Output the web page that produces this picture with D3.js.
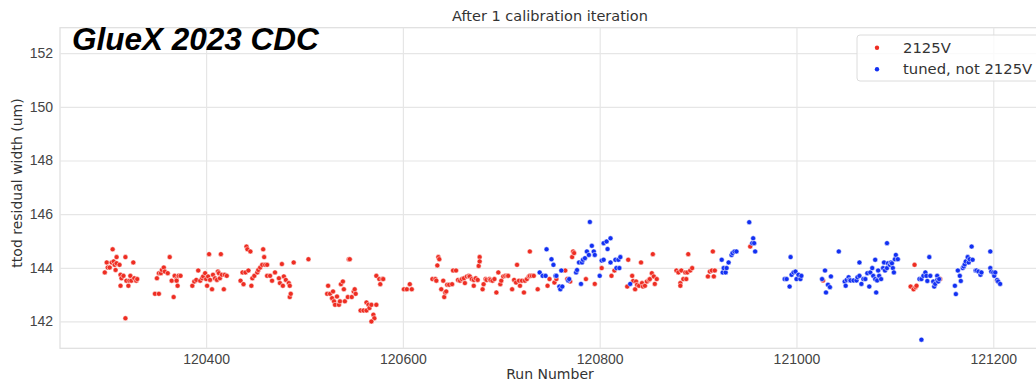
<!DOCTYPE html>
<html>
<head>
<meta charset="utf-8">
<script src="https://cdn.jsdelivr.net/npm/d3@7"></script>
<style>
  body { margin: 0; background: #fff; }
  svg { display: block; font-family: "DejaVu Sans", sans-serif; }
  .axis path { display: none; }
  .axis line { stroke: #e6e6e6; }
  .axis text { fill: #444; font-size: 14px; }
</style>
</head>
<body>
<div id="chart"></div>
<script>
var W = 1036, H = 381;

var chartTitle = "After 1 calibration iteration";
var seriesNames = ["2125V", "tuned, not 2125V"];
var seriesColors = ["#ee2d22", "#1230f2"];
var xTicks = [120400, 120600, 120800, 121000, 121200];
var yTicks = [142, 144, 146, 148, 150, 152];

/* runs at 2125V */
var redRun = [
  120297,120299,120300,120302,120304,120306,120307,120305,120308,120309,120309,120312,120313,120314,
  120313,120316,120318,120318,120319,120321,120322,120323,120324,120326,120327,120329,120330,
  120348,120352,120350,120352,120354,120355,120357,120358,120361,120363,120365,120367,120368,120370,
  120370,120371,120372,120374,
  120386,120388,120390,120392,120394,120396,120397,120399,120400,120401,120402,120403,120404,120406,
  120407,120409,120411,120412,120413,120414,120415,120416,120418,120419,120421,
  120435,120437,120438,120440,120441,120442,120445,120443,120446,120447,120449,120452,120453,120455,
  120457,120458,120459,120460,120462,120462,120465,120467,120470,120474,120475,120477,120478,120479,
  120481,120484,120485,120485,120486,120489,120504,
  120523,120524,120526,120528,120529,120530,120531,120533,120535,120536,120537,120539,120540,120541,
  120544,120545,120546,120548,120550,120551,120552,
  120557,120560,120563,120563,120565,120566,120568,120570,120571,120568,120573,120573,120576,120577,
  120579,120580,120601,120604,120607,120609,
  120630,120633,120634,120635,120636,120637,120639,120641,120642,120643,120644,120645,120647,120650,
  120651,120654,120656,120658,120660,120662,120663,120665,120667,120668,120670,120672,120672,120674,
  120676,120677,120678,120678,120681,120682,120684,120685,120688,120689,120691,120693,120695,120697,
  120699,120700,120702,120704,120706,120707,120711,120713,120715,120716,120718,120719,120721,120723,
  120724,120726,120728,120729,120729,120731,120733,120737,120747,120749,120754,120756,120765,120767,
  120770,120772,120773,120774,120786,120795,
  120802,120812,120815,120829,120828,120833,120834,120836,120837,120838,120840,120842,120843,120844,
  120846,120848,120850,120851,120853,120854,120855,120856,120858,
  120878,120880,120882,120882,120883,120885,120887,120888,120889,120890,120892,120894,
  120910,120912,120914,120915,120916,120917,120953,121027,
  121116,121119,121120,121121,121122,121146,121204
];
var redWidth = [
  143.83,144.20,144.01,144.01,144.20,144.24,144.11,144.69,143.92,144.40,144.17,144.11,143.74,143.61,
  143.33,143.70,144.40,142.12,143.52,143.33,143.52,143.70,143.52,144.20,143.61,143.52,143.58,
  143.03,143.03,143.61,143.80,143.80,143.92,144.01,143.86,143.80,144.40,143.52,142.91,143.70,143.58,
  143.52,143.33,143.70,143.70,
  143.33,143.49,143.55,143.90,143.52,143.61,143.68,143.80,143.58,143.33,143.68,144.51,143.55,143.20,
  143.74,143.61,143.55,143.86,143.80,143.61,144.51,143.74,143.20,143.74,143.70,
  143.52,143.83,143.39,143.83,144.79,144.69,144.61,143.90,143.33,143.61,143.70,143.83,143.92,144.01,
  144.11,144.69,144.40,144.11,144.11,143.70,143.70,143.52,143.83,143.61,143.43,144.14,143.33,143.68,
  143.55,143.43,143.33,142.91,143.03,144.20,144.32,
  143.03,143.33,143.03,142.87,143.12,142.75,142.62,142.93,142.62,142.75,143.39,143.49,143.20,142.75,
  142.91,144.32,144.32,142.91,143.12,143.20,143.03,
  142.41,142.41,142.71,142.41,142.62,142.50,142.62,142.25,142.12,142.00,142.62,143.70,143.58,143.39,
  143.58,143.58,143.20,143.20,143.39,143.20,
  143.58,143.58,143.52,144.09,144.40,144.32,143.20,143.52,142.91,143.08,143.12,143.37,143.37,143.39,
  143.90,143.90,143.55,143.52,143.58,143.61,143.43,143.68,143.70,143.68,143.58,143.33,143.55,143.61,
  143.55,144.07,144.40,144.24,143.20,143.39,143.58,143.55,143.58,143.55,143.52,143.58,143.08,143.83,
  143.39,143.52,143.68,143.70,143.70,143.70,143.20,143.55,143.45,144.11,143.52,143.33,143.52,143.08,
  143.52,143.58,143.68,144.61,143.70,143.70,143.70,143.20,143.33,143.58,143.45,143.58,143.90,143.58,
  143.49,144.40,144.61,144.55,143.58,143.40,
  143.99,143.70,143.90,144.30,143.30,143.70,143.51,143.20,143.49,143.37,143.33,144.20,143.43,143.30,
  143.33,143.49,143.55,143.58,143.80,144.51,143.68,143.40,143.58,
  143.90,143.83,143.43,143.33,143.90,143.58,143.83,143.58,143.83,144.51,143.90,143.99,
  143.68,143.86,143.90,144.61,143.68,143.90,144.79,143.53,
  143.30,143.20,144.11,143.28,143.33,143.58,143.53
];

/* tuned runs, not at 2125V */
var blueRun = [
  120739,120742,120745,120746,120751,120753,120755,120756,120759,120760,120761,120762,120768,120769,
  120776,120777,120779,120781,120782,120783,120785,120787,120789,120790,120792,120794,120795,120800,
  120802,120804,120804,120807,120808,120811,120811,120816,120817,120819,120820,120821,120831,
  120924,120925,120926,120928,120929,120931,120934,120935,120937,120939,
  120952,120955,120956,120957,120958,
  120988,120990,120993,120994,120995,120997,120999,121000,121002,121004,121005,
  121026,121029,121030,121032,121035,121034,121043,121049,121051,121053,121050,121054,
  121055,121058,121061,121062,121064,121064,121066,121068,121070,121072,121074,121075,121077,121078,
  121080,121080,121081,121082,121083,121084,121086,121088,121089,121090,121092,121092,121093,121095,
  121096,121097,121098,121099,121100,121101,121103,
  121125,121127,121127,121129,121131,121132,121133,121135,121136,121139,121140,121141,121143,121143,
  121144,121145,
  121161,121162,121164,121166,121167,121169,121170,121171,121172,121174,121175,121176,121178,121179,
  121182,121183,121185,121187,121188,
  121197,121197,121198,121200,121201,121202,121204,121205,121207
];
var blueWidth = [
  143.83,143.70,143.70,144.69,144.32,144.11,143.70,143.70,143.30,143.20,143.90,143.30,143.53,143.58,
  143.83,143.92,144.20,143.40,144.20,144.30,144.36,144.61,144.48,145.71,144.82,144.61,144.48,143.70,
  144.27,144.30,144.92,144.98,144.70,145.10,144.20,144.30,143.99,144.30,143.99,144.40,143.40,
  144.30,143.83,143.99,143.83,143.99,144.20,144.48,144.55,144.61,144.61,
  145.70,144.92,145.10,144.92,144.61,
  143.58,143.58,143.30,144.40,143.74,143.83,143.86,143.58,143.74,143.58,143.70,
  143.58,143.90,143.08,143.37,143.68,143.28,144.61,143.49,143.55,143.65,143.33,143.55,
  143.53,143.53,143.53,143.65,144.20,143.70,143.40,143.58,143.58,143.80,143.30,143.83,143.99,143.70,
  144.30,143.58,143.08,143.53,143.90,143.70,143.58,143.99,144.20,143.90,144.92,143.99,144.17,144.11,
  144.20,144.17,143.99,143.83,144.32,144.48,144.32,
  143.58,143.58,141.32,143.70,143.83,143.70,143.51,144.40,143.70,143.49,143.30,143.40,143.70,143.55,
  143.49,143.58,
  143.33,143.02,143.90,143.70,143.51,143.99,144.05,144.13,144.24,144.40,144.20,144.32,144.79,144.30,
  143.90,143.90,143.86,143.74,143.83,
  144.61,143.99,143.86,143.83,143.70,143.83,143.55,143.49,143.40
];

var plot = {left: 60, right: 1040, top: 27.7, bottom: 348.3};

var x = d3.scaleLinear().domain([120251.5, 121247.5]).range([plot.left, plot.right]);
var y = d3.scaleLinear().domain([141.0, 152.95]).range([plot.bottom, plot.top]);

var svg = d3.select('#chart').append('svg')
  .attr('width', W)
  .attr('height', H);

// frame
svg.append('rect')
  .attr('x', plot.left)
  .attr('y', plot.top)
  .attr('width', plot.right - plot.left)
  .attr('height', plot.bottom - plot.top)
  .attr('fill', 'none')
  .attr('stroke', '#dedede')
  .attr('stroke-width', 1.2);

// grid + ticks
svg.append('g')
  .attr('class', 'axis')
  .attr('transform', 'translate(' + plot.left + ',0)')
  .call(d3.axisLeft(y).tickValues(yTicks).tickSize(-(plot.right - plot.left)).tickPadding(7).tickFormat(d3.format('d')));

svg.append('g')
  .attr('class', 'axis')
  .attr('transform', 'translate(0,' + plot.bottom + ')')
  .call(d3.axisBottom(x).tickValues(xTicks).tickSize(-(plot.bottom - plot.top)).tickPadding(6).tickFormat(d3.format('d')));

svg.selectAll('.axis line').attr('stroke', '#e6e6e6').attr('stroke-width', 1.2);

// points
function drawSeries(runs, widths, color) {
  svg.append('g')
    .selectAll('circle')
    .data(d3.range(runs.length))
    .enter().append('circle')
    .attr('cx', function (i) { return x(runs[i]); })
    .attr('cy', function (i) { return y(widths[i]); })
    .attr('r', 2.5)
    .attr('fill', color)
    .attr('stroke', '#fff')
    .attr('stroke-width', 0.5);
}
drawSeries(redRun, redWidth, seriesColors[0]);
drawSeries(blueRun, blueWidth, seriesColors[1]);

// labels
svg.append('text')
  .attr('x', (plot.left + plot.right) / 2)
  .attr('y', 21)
  .attr('text-anchor', 'middle')
  .attr('fill', '#333')
  .style('font-size', '14.5px')
  .text(chartTitle);

svg.append('text')
  .attr('x', (plot.left + plot.right) / 2)
  .attr('y', 379)
  .attr('text-anchor', 'middle')
  .attr('fill', '#333')
  .style('font-size', '14px')
  .text('Run Number');

svg.append('text')
  .attr('transform', 'translate(21.5,183) rotate(-90)')
  .attr('text-anchor', 'middle')
  .attr('fill', '#333')
  .style('font-size', '14px')
  .text('ttod residual width (um)');

svg.append('text')
  .attr('x', 72)
  .attr('y', 50)
  .style('font-family', '"Liberation Sans", Arial, sans-serif')
  .style('font-weight', 'bold')
  .style('font-style', 'italic')
  .style('font-size', '31.5px')
  .attr('fill', '#000')
  .text('GlueX 2023 CDC');

// legend
var legend = svg.append('g').attr('transform', 'translate(857,35)');
legend.append('rect')
  .attr('width', 200)
  .attr('height', 46)
  .attr('rx', 3)
  .attr('fill', '#fff')
  .attr('fill-opacity', 0.8)
  .attr('stroke', '#dcdcdc');

seriesNames.forEach(function (name, i) {
  var row = legend.append('g').attr('transform', 'translate(0,' + (12.7 + i * 21.6) + ')');
  row.append('circle')
    .attr('cx', 20)
    .attr('cy', 0)
    .attr('r', 2.2)
    .attr('fill', seriesColors[i]);
  row.append('text')
    .attr('x', 46)
    .attr('y', 5)
    .attr('fill', '#333')
    .style('font-size', '14.8px')
    .text(name);
});
</script>
</body>
</html>
